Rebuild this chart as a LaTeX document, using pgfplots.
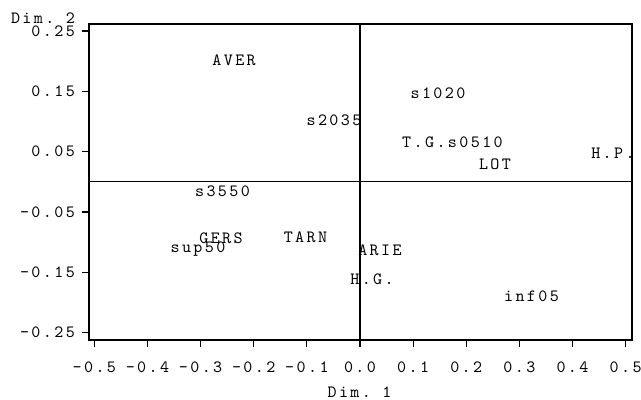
\documentclass[border=0pt]{standalone}
\usepackage{fontspec}
\usepackage{pgfplots}
\pgfplotsset{compat=1.18}
\newfontfamily\plotfont{lmmono10-regular}[Extension=.otf, LetterSpace=14]
\newcommand\pf{\plotfont\fontsize{17.2bp}{20bp}\selectfont}

\pgfplotstableread[row sep=\\]{
x y lab\\
-0.237 0.2018 AVER\\
-0.049 0.1025 s2035\\
0.1468 0.1468 s1020\\
0.1741 0.0655 T.G.s0510\\
0.2541 0.0291 LOT\\
0.4762 0.0473 H.P.\\
-0.2588 -0.0163 s3550\\
-0.2616 -0.0936 GERS\\
-0.3049 -0.1085 sup50\\
-0.1026 -0.0919 TARN\\
0.0376 -0.1141 ARIE\\
0.0226 -0.1615 H.G.\\
0.3228 -0.1892 inf05\\
}\points

\begin{document}
\begin{tikzpicture}[x=1bp,y=1bp]
\useasboundingbox (0,0) rectangle (641,399);
\begin{axis}[
  at={(89bp,59bp)}, anchor=south west,
  scale only axis, width=543bp, height=316bp,
  xmin=-0.5101, xmax=0.5120, ymin=-0.2621, ymax=0.2616,
  axis line style={line width=1.2bp},
  tick style={line width=1.2bp, black},
  tick align=outside, major tick length=7bp,
  xtick pos=bottom, ytick pos=left,
  xtick={-0.5,-0.4,-0.3,-0.2,-0.1,0,0.1,0.2,0.3,0.4,0.5},
  xticklabels={-0.5,-0.4,-0.3,-0.2,-0.1,0.0,0.1,0.2,0.3,0.4,0.5},
  ytick={-0.25,-0.15,-0.05,0.05,0.15,0.25},
  yticklabels={-0.25,-0.15,-0.05,0.05,0.15,0.25},
  ticklabel style={font=\pf, inner sep=0pt},
  xticklabel style={anchor=north, yshift=-14.5bp},
  yticklabel style={anchor=east, xshift=-7bp},
  clip=false,
]
% reference axes through the origin
\addplot[black, line width=1.2bp] coordinates {(0,-0.2621) (0,0.2616)};
\addplot[black, line width=1.2bp] coordinates {(-0.5101,0) (0.5120,0)};
% category labels at their coordinates
\addplot[draw=none, mark=none, nodes near coords, point meta=explicit symbolic,
  nodes near coords style={font=\pf, anchor=base, inner sep=0pt, yshift=-5.25bp, text=black}]
  table[x=x, y=y, meta=lab] {\points};
\end{axis}
\node[font=\pf, anchor=base east, inner sep=0pt] at (75,376) {Dim.\kern11.4bp2};
\node[font=\pf, anchor=base, inner sep=0pt] at (359.5,2) {Dim.\kern11.4bp1};
\end{tikzpicture}
\end{document}
